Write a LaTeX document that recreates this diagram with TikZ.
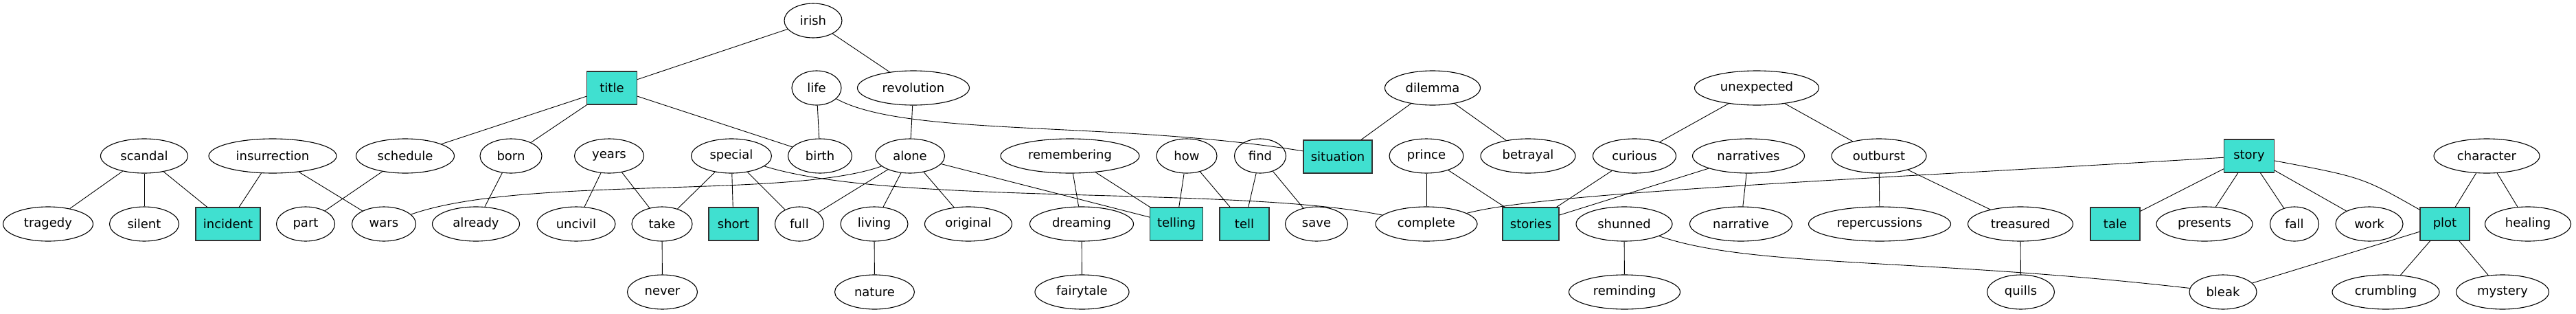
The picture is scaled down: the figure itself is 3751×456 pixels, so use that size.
\documentclass[tikz,border=0pt]{standalone}
\usepackage{fontspec}
\setmainfont{DejaVu Sans}
\usetikzlibrary{shapes.geometric}
\definecolor{turq}{HTML}{40E0D0}
\begin{document}
\begin{tikzpicture}[x=1pt,y=-1pt,
  every node/.style={font=\fontsize{18}{20}\selectfont},
  el/.style={ellipse, draw, line width=1.1pt, inner sep=0pt, minimum height=50pt},
  bx/.style={rectangle, draw=black!80, line width=1.1pt, fill=turq, inner sep=0pt, minimum height=48pt},
  ed/.style={line width=0.9pt}]
\useasboundingbox (0,0) rectangle (3751,456);
% row 0
\node[el, minimum width=84pt] (irish) at (1184,30) {irish};
% row 1
\node[bx, minimum width=73pt] (title) at (891,128) {title};
\node[el, minimum width=72pt] (life) at (1189,128) {life};
\node[el, minimum width=163pt] (revolution) at (1330,128) {revolution};
\node[el, minimum width=139pt] (dilemma) at (2086,128) {dilemma};
\node[el, minimum width=181pt] (unexpected) at (2558,128) {unexpected};
% row 2
\node[el, minimum width=127pt] (scandal) at (210,227) {scandal};
\node[el, minimum width=186pt] (insurrection) at (397,227) {insurrection};
\node[el, minimum width=143pt] (schedule) at (590,227) {schedule};
\node[el, minimum width=90pt] (born) at (744,227) {born};
\node[el, minimum width=101pt] (years) at (887,227) {years};
\node[el, minimum width=117pt] (special) at (1065,227) {special};
\node[el, minimum width=93pt] (birth) at (1194,227) {birth};
\node[el, minimum width=101pt] (alone) at (1325,227) {alone};
\node[el, minimum width=202pt] (remembering) at (1558,227) {remembering};
\node[el, minimum width=88pt] (how) at (1728,227) {how};
\node[el, minimum width=75pt] (find) at (1835,227) {find};
\node[bx, minimum width=100pt] (situation) at (1948,228) {situation};
\node[el, minimum width=108pt] (prince) at (2077,227) {prince};
\node[el, minimum width=138pt] (betrayal) at (2225,227) {betrayal};
\node[el, minimum width=121pt] (curious) at (2380,227) {curious};
\node[el, minimum width=163pt] (narratives) at (2546,227) {narratives};
\node[el, minimum width=138pt] (outburst) at (2736,227) {outburst};
\node[bx, minimum width=73pt] (story) at (3275,227) {story};
\node[el, minimum width=154pt] (character) at (3621,227) {character};
% row 3
\node[el, minimum width=131pt] (tragedy) at (70,326) {tragedy};
\node[el, minimum width=101pt] (silent) at (210,326) {silent};
\node[bx, minimum width=94pt] (incident) at (332,326) {incident};
\node[el, minimum width=85pt] (part) at (445,326) {part};
\node[el, minimum width=93pt] (wars) at (559,326) {wars};
\node[el, minimum width=127pt] (already) at (693,326) {already};
\node[el, minimum width=114pt] (uncivil) at (839,326) {uncivil};
\node[el, minimum width=88pt] (take) at (964,326) {take};
\node[bx, minimum width=72pt] (short) at (1068,326) {short};
\node[el, minimum width=71pt] (full) at (1164,326) {full};
\node[el, minimum width=98pt] (living) at (1273,326) {living};
\node[el, minimum width=127pt] (original) at (1410,326) {original};
\node[el, minimum width=151pt] (dreaming) at (1575,326) {dreaming};
\node[bx, minimum width=77pt] (telling) at (1713,326) {telling};
\node[bx, minimum width=72pt] (tell) at (1812,326) {tell};
\node[el, minimum width=91pt] (save) at (1917,326) {save};
\node[el, minimum width=148pt] (complete) at (2077,326) {complete};
\node[bx, minimum width=82pt] (stories) at (2229,326) {stories};
\node[el, minimum width=140pt] (shunned) at (2365,326) {shunned};
\node[el, minimum width=149pt] (narrative) at (2535,326) {narrative};
\node[el, minimum width=207pt] (repercussions) at (2737,326) {repercussions};
\node[el, minimum width=153pt] (treasured) at (2942,326) {treasured};
\node[bx, minimum width=72pt] (tale) at (3080,326) {tale};
\node[el, minimum width=140pt] (presents) at (3210,326) {presents};
\node[el, minimum width=71pt] (fall) at (3341,326) {fall};
\node[el, minimum width=98pt] (work) at (3450,326) {work};
\node[bx, minimum width=72pt] (plot) at (3560,326) {plot};
\node[el, minimum width=125pt] (healing) at (3681,326) {healing};
% row 4
\node[el, minimum width=102pt] (never) at (964.5,425) {never};
\node[el, minimum width=116pt] (nature) at (1273.5,425) {nature};
\node[el, minimum width=137pt] (fairytale) at (1575.5,425) {fairytale};
\node[el, minimum width=162pt] (reminding) at (2365.5,425) {reminding};
\node[el, minimum width=98pt] (quills) at (2942.5,425) {quills};
\node[el, minimum width=98pt] (bleak) at (3237,425) {bleak};
\node[el, minimum width=156pt] (crumbling) at (3474,425) {crumbling};
\node[el, minimum width=135pt] (mystery) at (3644,425) {mystery};
% edges
\draw[ed] (irish) -- (title);
\draw[ed] (irish) -- (revolution);
\draw[ed] (title) -- (schedule);
\draw[ed] (title) -- (born);
\draw[ed] (title) -- (birth);
\draw[ed] (life) -- (birth);
\draw[ed] (life) .. controls (1320,200) and (1620,175) .. (situation);
\draw[ed] (revolution) -- (alone);
\draw[ed] (dilemma) -- (situation);
\draw[ed] (dilemma) -- (betrayal);
\draw[ed] (unexpected) -- (curious);
\draw[ed] (unexpected) -- (outburst);
\draw[ed] (scandal) -- (tragedy);
\draw[ed] (scandal) -- (silent);
\draw[ed] (scandal) -- (incident);
\draw[ed] (insurrection) -- (incident);
\draw[ed] (insurrection) -- (wars);
\draw[ed] (schedule) -- (part);
\draw[ed] (born) -- (already);
\draw[ed] (years) -- (uncivil);
\draw[ed] (years) -- (take);
\draw[ed] (special) -- (take);
\draw[ed] (special) -- (short);
\draw[ed] (special) -- (full);
\draw[ed] (special) .. controls (1300,300) and (1800,270) .. (complete);
\draw[ed] (alone) .. controls (1150,290) and (760,255) .. (wars);
\draw[ed] (alone) -- (full);
\draw[ed] (alone) -- (living);
\draw[ed] (alone) -- (original);
\draw[ed] (alone) -- (telling);
\draw[ed] (remembering) -- (dreaming);
\draw[ed] (remembering) -- (telling);
\draw[ed] (how) -- (telling);
\draw[ed] (how) -- (tell);
\draw[ed] (find) -- (tell);
\draw[ed] (find) -- (save);
\draw[ed] (prince) -- (complete);
\draw[ed] (prince) -- (stories);
\draw[ed] (curious) -- (stories);
\draw[ed] (narratives) -- (stories);
\draw[ed] (narratives) -- (narrative);
\draw[ed] (outburst) -- (repercussions);
\draw[ed] (outburst) -- (treasured);
\draw[ed] (story) .. controls (2700,262) and (2250,280) .. (complete);
\draw[ed] (story) -- (tale);
\draw[ed] (story) -- (presents);
\draw[ed] (story) -- (fall);
\draw[ed] (story) -- (work);
\draw[ed] (story) .. controls (3440,258) .. (plot);
\draw[ed] (character) -- (plot);
\draw[ed] (character) -- (healing);
\draw[ed] (take) -- (never);
\draw[ed] (living) -- (nature);
\draw[ed] (dreaming) -- (fairytale);
\draw[ed] (shunned) -- (reminding);
\draw[ed] (shunned) .. controls (2550,390) and (2800,375) .. (bleak);
\draw[ed] (treasured) -- (quills);
\draw[ed] (plot) -- (bleak);
\draw[ed] (plot) -- (crumbling);
\draw[ed] (plot) -- (mystery);
\end{tikzpicture}
\end{document}
